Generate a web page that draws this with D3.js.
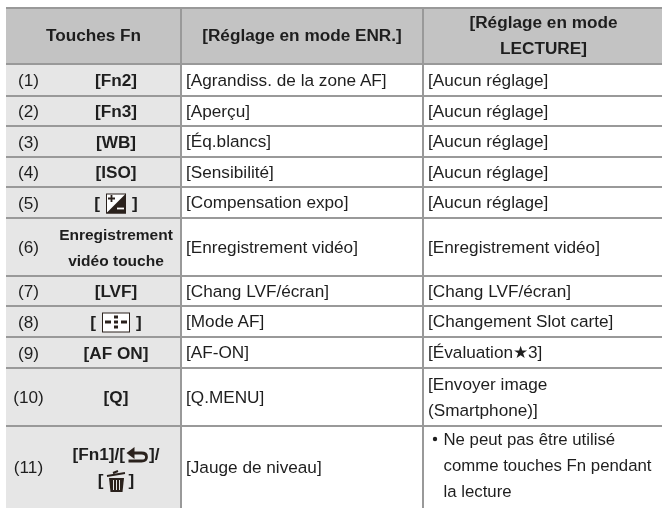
<!DOCTYPE html>
<html>
<head>
<meta charset="utf-8">
<script src="https://cdn.jsdelivr.net/npm/d3@7"></script>
<style>
  html, body { margin: 0; padding: 0; background: #fff; }
  svg { filter: blur(0.35px); }
  text { font-family: "Liberation Sans", Arial, sans-serif; font-size: 17.2px; fill: #1e1e1e; }
  .bold { font-weight: bold; }
  .narrow { font-size: 15.5px; }
  .note { font-size: 16.8px; }
</style>
</head>
<body>
<div id="chart"></div>
<script>
const headers = [['Touches Fn'], ['[Réglage en mode ENR.]'], ['[Réglage en mode', 'LECTURE]']]
const numbers = ['(1)', '(2)', '(3)', '(4)', '(5)', '(6)', '(7)', '(8)', '(9)', '(10)', '(11)']
const keys = [
  ['[Fn2]'], ['[Fn3]'], ['[WB]'], ['[ISO]'], ['[ @expo ]'],
  ['Enregistrement', 'vidéo touche'], ['[LVF]'], ['[ @af ]'], ['[AF ON]'], ['[Q]'],
  ['[Fn1]/[ @back ]/', '[ @trash ]']
]
const recSettings = [
  '[Agrandiss. de la zone AF]', '[Aperçu]', '[Éq.blancs]', '[Sensibilité]', '[Compensation expo]',
  '[Enregistrement vidéo]', '[Chang LVF/écran]', '[Mode AF]', '[AF-ON]', '[Q.MENU]', '[Jauge de niveau]'
]
const playSettings = [
  ['[Aucun réglage]'], ['[Aucun réglage]'], ['[Aucun réglage]'], ['[Aucun réglage]'], ['[Aucun réglage]'],
  ['[Enregistrement vidéo]'], ['[Chang LVF/écran]'], ['[Changement Slot carte]'], ['[Évaluation★3]'],
  ['[Envoyer image', '(Smartphone)]'],
  ['Ne peut pas être utilisé', 'comme touches Fn pendant', 'la lecture']
]

// layout, measured off the page
const width = 662
const height = 508
const tableLeft = 6
const col1 = 181
const col2 = 423
const tableTop = 8
const rowLines = [64, 96, 126, 157, 187, 218, 276, 306, 337, 368, 426, 508]
const lineStep = 26
const lineColor = '#999999'
const ink = '#2a211c'

const svg = d3.select('#chart').append('svg')
  .attr('width', width).attr('height', height)
  .style('display', 'block')

const rows = numbers.map((n, i) => ({
  n, key: keys[i], rec: recSettings[i], play: playSettings[i],
  y0: rowLines[i], y1: rowLines[i + 1]
}))

// backgrounds
svg.append('rect').attr('x', tableLeft).attr('y', tableTop).attr('width', width - tableLeft).attr('height', rowLines[0] - tableTop).attr('fill', '#c3c3c3')
svg.selectAll('.stub').data(rows).enter().append('rect')
  .attr('class', 'stub')
  .attr('x', tableLeft).attr('y', d => d.y0).attr('width', col1 - tableLeft).attr('height', d => d.y1 - d.y0)
  .attr('fill', '#e6e6e6')

// rules
svg.selectAll('.hline').data([tableTop, ...rowLines.slice(0, -1)]).enter().append('line')
  .attr('class', 'hline')
  .attr('x1', tableLeft).attr('x2', width).attr('y1', d => d).attr('y2', d => d)
  .attr('stroke', lineColor).attr('stroke-width', 2)
svg.selectAll('.vline').data([col1, col2]).enter().append('line')
  .attr('class', 'vline')
  .attr('x1', d => d).attr('x2', d => d).attr('y1', tableTop).attr('y2', height)
  .attr('stroke', lineColor).attr('stroke-width', 2)

// draws a stack of lines vertically centred on cy
function block(g, lines, x, cy, anchor, cls) {
  lines.forEach((t, i) => {
    g.append('text')
      .attr('class', cls || null)
      .attr('x', x)
      .attr('y', cy + (i - (lines.length - 1) / 2) * lineStep + 5.5)
      .attr('text-anchor', anchor)
      .text(t)
  })
}

const icons = {
  expo(g) {
    g.append('rect').attr('x', 0.5).attr('y', -14.5).attr('width', 19).attr('height', 19).attr('fill', '#fff').attr('stroke', ink).attr('stroke-width', 1)
    g.append('path').attr('d', 'M20,-15V5H0Z').attr('fill', ink)
    g.append('path').attr('d', 'M2,-10H9M5.500,-13.500V-6.500').attr('stroke', ink).attr('stroke-width', 1.8)
    g.append('path').attr('d', 'M11,0H18').attr('stroke', '#fff').attr('stroke-width', 1.8)
  },
  af(g) {
    g.append('rect').attr('x', 0.5).attr('y', -14.5).attr('width', 27).attr('height', 19).attr('fill', '#fff').attr('stroke', ink).attr('stroke-width', 1)
    g.append('path').attr('d', 'M3,-7h6v3h-6zM19,-7h6v3h-6zM12,-12h4v3h-4zM12,-7h4v3h-4zM12,-2h4v3h-4z').attr('fill', ink)
  },
  back(g) {
    g.append('path').attr('d', 'M4,-7H15Q20,-7 20,-3Q20,1 15,1H2').attr('fill', 'none').attr('stroke', ink).attr('stroke-width', 2.8)
    g.append('path').attr('d', 'M8,-13L0,-7L8,-1Z').attr('fill', ink)
  },
  trash(g) {
    g.append('path').attr('d', 'M1,-10L19,-13M7,-13L12,-15').attr('stroke', ink).attr('stroke-width', 1.9)
    g.append('path').attr('d', 'M3,-8H18L16.500,6H4.500Z').attr('fill', ink)
    g.append('path').attr('d', 'M7.500,-6V4M10.500,-6V4M13.500,-6V4').attr('stroke', '#e6e6e6').attr('stroke-width', 1)
  }
}
const iconWidths = { expo: 20, af: 28, back: 21, trash: 20 }
const iconGaps = { expo: 6, af: 6, back: 1.5, trash: 2.5 }

// key labels may hold an icon token, lay the pieces out by measuring them
function keyLine(g, line, cx, baseline, cls) {
  const m = line.match(/^(.*?)\s?@(\w+)\s?(.*)$/)
  if (!m) {
    g.append('text').attr('class', cls).attr('x', cx).attr('y', baseline).attr('text-anchor', 'middle').text(line)
    return
  }
  const gap = iconGaps[m[2]]
  const a = g.append('text').attr('class', cls).attr('y', baseline).text(m[1])
  const b = g.append('text').attr('class', cls).attr('y', baseline).text(m[3])
  const wa = a.node().getComputedTextLength()
  const wb = b.node().getComputedTextLength()
  const total = wa + gap + iconWidths[m[2]] + gap + wb
  const x0 = cx - total / 2
  a.attr('x', x0)
  b.attr('x', x0 + wa + gap + iconWidths[m[2]] + gap)
  const ig = g.append('g').attr('transform', `translate(${x0 + wa + gap},${baseline})`)
  icons[m[2]](ig)
}

// header
const headCy = (tableTop + rowLines[0]) / 2
const headCx = [(tableLeft + col1) / 2, (col1 + col2) / 2, (col2 + width) / 2 + 1]
headers.forEach((h, i) => block(svg, h, headCx[i], headCy - 0.5, 'middle', 'bold'))

// body
rows.forEach(d => {
  const g = svg.append('g')
  const cy = (d.y0 + d.y1) / 2
  g.append('text').attr('x', 28.500).attr('y', cy + 6).attr('text-anchor', 'middle').text(d.n)
  const keyClass = d.key[0].startsWith('Enreg') ? 'bold narrow' : 'bold'
  d.key.forEach((line, j) => {
    keyLine(g, line, 116, cy + (j - (d.key.length - 1) / 2) * lineStep + 6, keyClass)
  })
  block(g, [d.rec], 186, cy, 'start')
  if (d.play.length === 3) {
    // the note sits a little above the row's middle
    block(g, d.play, 443.500, cy - 1.5, 'start', 'note')
    g.append('circle').attr('cx', 435).attr('cy', cy - lineStep - 2).attr('r', 2.2).attr('fill', '#1e1e1e')
  } else {
    block(g, d.play, 428, cy, 'start')
  }
})
</script>
</body>
</html>
